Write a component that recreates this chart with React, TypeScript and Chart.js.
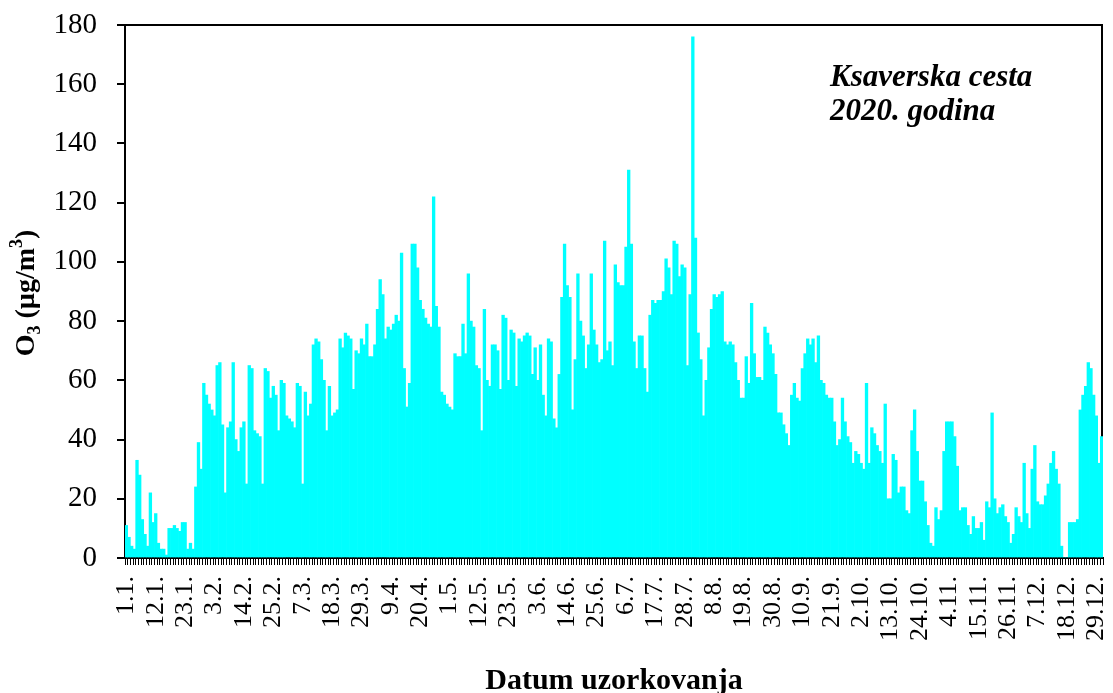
import React, { useEffect, useRef } from 'react';
import { Chart, registerables } from 'chart.js';

Chart.register(...registerables);

// Days per month in 2020 (leap year)
const monthDays = [31, 29, 31, 30, 31, 30, 31, 31, 30, 31, 30, 31];

// Daily O3 concentrations (µg/m3)
const jan = [11, 7, 4, 3, 33, 28, 13, 8, 4, 22, 12, 15, 5, 3, 3, 1, 10, 10, 11, 10, 9, 12, 12, 3, 5, 3, 24, 39, 30, 59, 55];
const feb = [52, 50, 48, 65, 66, 45, 22, 44, 46, 66, 40, 36, 44, 46, 25, 65, 64, 43, 42, 41, 25, 64, 63, 54, 58, 55, 43, 60, 59];
const mar = [48, 47, 46, 44, 59, 58, 25, 56, 48, 52, 72, 74, 73, 67, 60, 43, 58, 48, 49, 50, 74, 71, 76, 75, 74, 57, 70, 69, 74, 72, 79];
const apr = [68, 68, 72, 84, 94, 89, 74, 78, 77, 79, 82, 80, 103, 64, 51, 59, 106, 106, 98, 87, 84, 81, 79, 78, 122, 85, 78, 56, 55, 52];
const may = [51, 50, 69, 68, 68, 79, 69, 96, 80, 78, 65, 64, 43, 84, 60, 58, 72, 72, 70, 57, 82, 81, 60, 77, 76, 58, 74, 73, 75, 76, 75];
const jun = [62, 71, 60, 72, 55, 48, 74, 73, 47, 44, 62, 88, 106, 92, 88, 50, 67, 96, 80, 75, 64, 72, 96, 77, 72, 66, 67, 107, 70, 73];
const jul = [65, 99, 93, 92, 92, 105, 131, 106, 73, 64, 75, 75, 64, 56, 82, 87, 86, 87, 87, 90, 101, 98, 89, 107, 106, 95, 99, 98, 65, 89, 176];
const aug = [108, 76, 67, 48, 60, 71, 84, 89, 88, 89, 90, 73, 72, 73, 72, 66, 60, 54, 54, 68, 59, 86, 69, 61, 61, 60, 78, 76, 72, 69, 62];
const sep = [49, 49, 45, 42, 38, 55, 59, 54, 53, 64, 69, 74, 72, 74, 66, 75, 60, 59, 55, 54, 54, 46, 38, 40, 54, 46, 41, 39, 32, 36];
const oct = [35, 32, 30, 59, 32, 44, 42, 38, 36, 32, 52, 20, 20, 35, 33, 22, 24, 24, 16, 15, 43, 50, 36, 26, 26, 19, 11, 5, 4, 17, 13];
const nov = [16, 36, 46, 46, 46, 41, 31, 16, 17, 17, 11, 8, 14, 10, 10, 12, 6, 19, 17, 49, 20, 15, 17, 18, 14, 12, 5, 8, 17, 14];
const dec = [12, 32, 15, 10, 30, 38, 19, 18, 18, 21, 25, 32, 36, 30, 25, 4, 0, 0, 12, 12, 12, 13, 50, 55, 58, 66, 64, 55, 48, 32, 41];

const o3Values = [...jan, ...feb, ...mar, ...apr, ...may, ...jun, ...jul, ...aug, ...sep, ...oct, ...nov, ...dec];

// Category labels "d.m." for every day of 2020
const categories: string[] = [];
monthDays.forEach((n, m) => {
  for (let d = 1; d <= n; d++) categories.push(`${d}.${m + 1}.`);
});

const labelEvery = 11; // a date label every 11th day
const yMin = 0;
const yMax = 180;
const yStep = 20;

const annotationLines = ['Ksaverska cesta', '2020. godina'];
const xTitle = 'Datum uzorkovanja';

const SERIF = '"Liberation Serif", "Times New Roman", serif';

const decorPlugin = {
  id: 'decor',
  beforeDatasetsDraw(chart: any) {
    const { ctx, chartArea } = chart;
    const { left, right, top, bottom } = chartArea;
    ctx.save();
    ctx.strokeStyle = '#000';
    ctx.lineWidth = 2;
    ctx.beginPath();
    ctx.moveTo(left - 1, top);
    ctx.lineTo(right - 1, top);
    ctx.lineTo(right - 1, bottom);
    ctx.stroke();
    ctx.restore();
  },
  afterDraw(chart: any) {
    const { ctx, chartArea } = chart;
    ctx.save();
    ctx.fillStyle = '#000';

    // Annotation
    ctx.font = `italic bold 31px ${SERIF}`;
    ctx.textAlign = 'left';
    ctx.textBaseline = 'alphabetic';
    ctx.fillText(annotationLines[0], 830, 86);
    ctx.fillText(annotationLines[1], 830, 120);

    // X axis title
    ctx.font = `bold 30px ${SERIF}`;
    ctx.textAlign = 'center';
    ctx.fillText(xTitle, (chartArea.left + chartArea.right) / 2, 689);

    // Y axis title: O3 (µg/m3) with sub/superscript
    const big = `bold 28px ${SERIF}`;
    const small = `bold 18px ${SERIF}`;
    const parts = [
      { t: 'O', f: big, dy: 0 },
      { t: '3', f: small, dy: 6 },
      { t: ' (µg/m', f: big, dy: 0 },
      { t: '3', f: small, dy: -12 },
      { t: ')', f: big, dy: 0 },
    ];
    let total = 0;
    const widths = parts.map((p) => {
      ctx.font = p.f;
      const w = ctx.measureText(p.t).width;
      total += w;
      return w;
    });
    ctx.translate(34, 293 + total / 2);
    ctx.rotate(-Math.PI / 2);
    ctx.textAlign = 'left';
    let x = 0;
    parts.forEach((p, i) => {
      ctx.font = p.f;
      ctx.fillText(p.t, x, p.dy);
      x += widths[i];
    });
    ctx.restore();
  },
};

export default function App() {
  const ref = useRef<HTMLCanvasElement>(null);

  useEffect(() => {
    if (!ref.current) return;
    const chart = new Chart(ref.current, {
      type: 'bar',
      data: {
        labels: categories,
        datasets: [
          {
            data: o3Values,
            backgroundColor: '#00FFFF',
            borderWidth: 0,
            barPercentage: 1,
            categoryPercentage: 1,
          },
        ],
      },
      options: {
        responsive: false,
        animation: false,
        layout: { padding: { top: 25, right: 10, left: 0, bottom: 0 } },
        plugins: {
          legend: { display: false },
          tooltip: { enabled: false },
        },
        scales: {
          x: {
            offset: true,
            afterFit: (s: any) => {
              s.height = 135;
              s.paddingLeft = 0;
              s.paddingRight = 0;
            },
            border: { display: true, color: '#000', width: 2 },
            grid: {
              display: true,
              drawOnChartArea: false,
              drawTicks: true,
              tickLength: 7,
              color: '#000',
              lineWidth: 1,
              offset: true,
            },
            ticks: {
              autoSkip: false,
              minRotation: 90,
              maxRotation: 90,
              padding: 11,
              color: '#000',
              font: { family: SERIF, size: 26 },
              callback: (_v: any, i: number) => (i % labelEvery === 0 ? categories[i] : ''),
            },
          },
          y: {
            min: yMin,
            max: yMax,
            afterFit: (s: any) => {
              s.width = 125;
              s.paddingTop = 0;
              s.paddingBottom = 0;
            },
            border: { display: true, color: '#000', width: 2 },
            grid: {
              display: true,
              drawOnChartArea: false,
              drawTicks: true,
              tickLength: 8,
              color: '#000',
              lineWidth: 2,
            },
            ticks: {
              stepSize: yStep,
              padding: 20,
              color: '#000',
              font: { family: SERIF, size: 29 },
            },
          },
        },
      },
      plugins: [decorPlugin],
    });
    return () => chart.destroy();
  }, []);

  return (
    <div style={{ position: 'absolute', left: 0, top: 0, width: 1113, height: 693, background: '#fff' }}>
      <canvas ref={ref} width={1113} height={693} style={{ display: 'block' }} />
    </div>
  );
}
